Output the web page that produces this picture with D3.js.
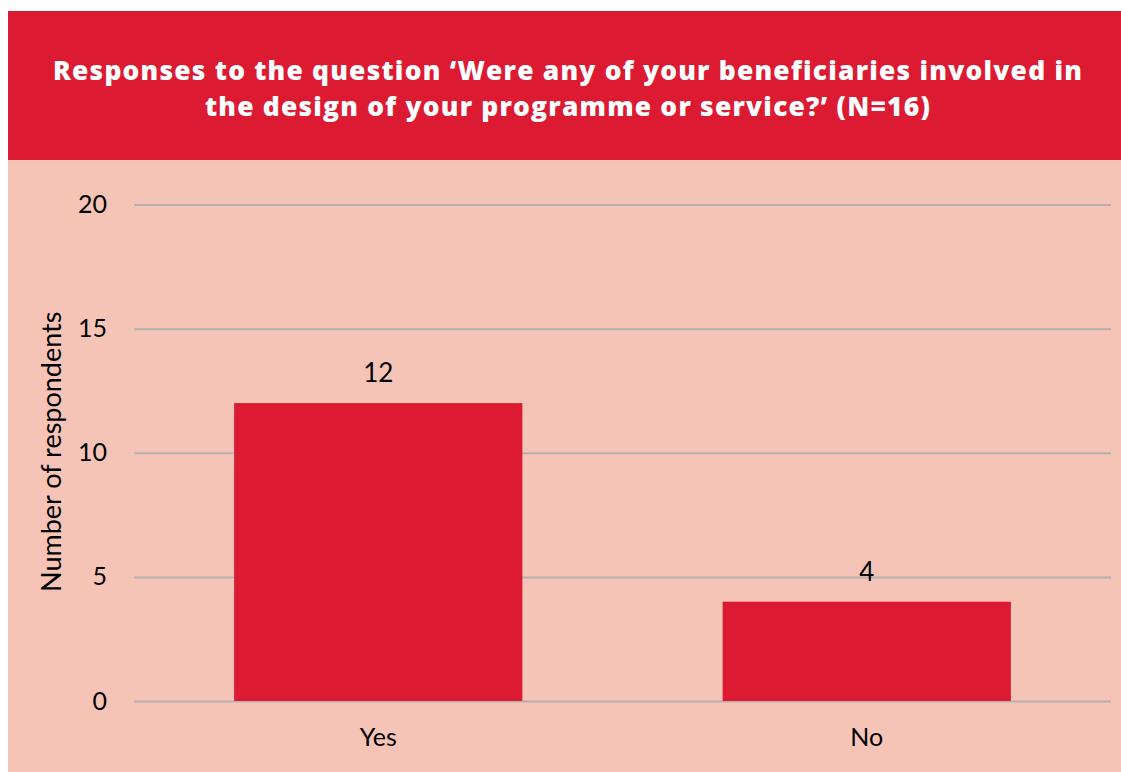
<!DOCTYPE html>
<html>
<head>
<meta charset="utf-8">
<script src="https://cdn.jsdelivr.net/npm/d3@7/dist/d3.min.js"></script>
<style>
  html, body { margin: 0; padding: 0; background: #ffffff; }
  svg { display: block; }
</style>
</head>
<body>
<svg id="chart" width="1121" height="772"></svg>
<script>
// Survey responses: beneficiaries involved in programme design
const categories = ["Yes", "No"];
const respondents = [12, 4];
const yTicks = [0, 5, 10, 15, 20];
const titleLines = [
  "Responses to the question \u2018Were any of your beneficiaries involved in",
  "the design of your programme or service?\u2019 (N=16)"
];
const yAxisTitle = "Number of respondents";

const svg = d3.select("#chart");
const W = 1121, H = 772;

const panel = { left: 8, top: 11, headerBottom: 160 };
const plot = { left: 134, right: 1111, top: 204.5, bottom: 701 };

const RED = "#dc1a32";
const PINK = "#f5c4b7";
const GRID = "#b3b0b0";
const bodyFont = "Lato, 'Open Sans', sans-serif";

// Panel background and header band
svg.append("rect").attr("x", panel.left).attr("y", panel.headerBottom)
  .attr("width", W - panel.left).attr("height", H - panel.headerBottom).attr("fill", PINK);
svg.append("rect").attr("x", panel.left).attr("y", panel.top)
  .attr("width", W - panel.left).attr("height", panel.headerBottom - panel.top).attr("fill", RED);

// Title: letter-spaced so the first line spans the header width
const titleSize = 26.4;
const titleTexts = titleLines.map((t, i) => svg.append("text")
  .attr("x", 568)
  .attr("y", 80 + i * 36)
  .attr("fill", "#ffffff")
  .attr("font-family", "'Open Sans', Lato, sans-serif")
  .attr("font-weight", 800)
  .attr("font-size", titleSize)
  .attr("text-anchor", "middle")
  .text(t));
const firstWidth = titleTexts[0].node().getComputedTextLength();
const spacing = Math.max(0, (1030 - firstWidth) / titleLines[0].length);
titleTexts.forEach(t => t.attr("letter-spacing", spacing.toFixed(2)));

// Scales
const x = d3.scaleBand()
  .domain(categories)
  .range([plot.left, plot.right])
  .paddingInner(0.41)
  .paddingOuter(0.205);
const y = d3.scaleLinear().domain([0, 20]).range([plot.bottom, plot.top]);

// Gridlines + y tick labels
const yAxis = d3.axisLeft(y).tickValues(yTicks).tickSize(-(plot.right - plot.left)).tickPadding(27);
const yg = svg.append("g").attr("transform", `translate(${plot.left},0)`).call(yAxis);
yg.select(".domain").remove();
yg.selectAll(".tick line").attr("stroke", GRID).attr("stroke-width", 2);
yg.selectAll(".tick text")
  .attr("fill", "#000")
  .attr("font-family", bodyFont)
  .attr("font-size", 25);

// Bars
svg.append("g").selectAll("rect")
  .data(categories)
  .join("rect")
  .attr("x", d => x(d))
  .attr("width", x.bandwidth())
  .attr("y", (d, i) => y(respondents[i]))
  .attr("height", (d, i) => y(0) - y(respondents[i]))
  .attr("fill", RED);

// Value labels
svg.append("g").selectAll("text")
  .data(categories)
  .join("text")
  .attr("x", d => x(d) + x.bandwidth() / 2)
  .attr("y", (d, i) => y(respondents[i]) - 21)
  .attr("text-anchor", "middle")
  .attr("font-family", bodyFont)
  .attr("font-size", 26)
  .attr("fill", "#000")
  .text((d, i) => respondents[i]);

// X axis labels
const xAxis = d3.axisBottom(x).tickSize(0).tickPadding(27);
const xg = svg.append("g").attr("transform", `translate(0,${plot.bottom})`).call(xAxis);
xg.select(".domain").remove();
xg.selectAll(".tick text")
  .attr("fill", "#000")
  .attr("font-family", bodyFont)
  .attr("font-size", 25);

// Y axis title
svg.append("text")
  .attr("transform", `translate(61,${(plot.top + plot.bottom) / 2 - 1}) rotate(-90)`)
  .attr("text-anchor", "middle")
  .attr("font-family", bodyFont)
  .attr("font-size", 27)
  .attr("fill", "#000")
  .text(yAxisTitle);
</script>
</body>
</html>
